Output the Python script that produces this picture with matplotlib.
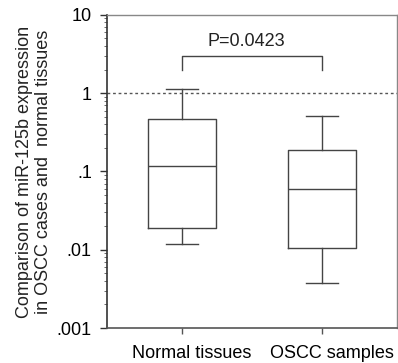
import matplotlib
matplotlib.use("Agg")
import matplotlib.pyplot as plt
import matplotlib.transforms as mtransforms
from matplotlib.ticker import FixedLocator, FixedFormatter, LogLocator, NullFormatter

plt.rcParams['font.family'] = ['Liberation Sans', 'DejaVu Sans']

# data
groups = ["Normal tissues", "OSCC samples"]
whisker_low = [0.0119, 0.00377]
q1 = [0.0191, 0.0106]
median = [0.116, 0.0588]
q3 = [0.464, 0.186]
whisker_high = [1.125, 0.507]

ref_level = 1.0
bracket_top = 3.0
bracket_leg = 2.0
p_text = "P=0.0423"

yticks = [0.001, 0.01, 0.1, 1, 10]
ytick_labels = [".001", ".01", ".1", "1", "10"]

line_col = "#444444"
fs = 13

fig = plt.figure(figsize=(3.98, 3.63), dpi=100)
ax = fig.add_axes([0.269, 0.0964, 0.728, 0.8626])

stats = []
for i in range(len(groups)):
    stats.append({
        "label": groups[i],
        "whislo": whisker_low[i],
        "q1": q1[i],
        "med": median[i],
        "q3": q3[i],
        "whishi": whisker_high[i],
        "fliers": [],
    })

positions = list(range(1, len(groups) + 1))
lp = dict(color=line_col, linewidth=1.0)
ax.bxp(stats, positions=positions, widths=0.49, showfliers=False,
       boxprops=lp, medianprops=lp, whiskerprops=lp, capprops=lp,
       capwidths=0.23)

ax.set_yscale("log")
ax.set_ylim(0.001, 10)
ax.set_xlim(0.464, 2.536)

# reference line at 1
ax.axhline(ref_level, color="#555555", linestyle=(0, (2, 2)), linewidth=1.0)

# significance bracket
ax.plot([positions[0], positions[0], positions[1], positions[1]],
        [bracket_leg, bracket_top, bracket_top, bracket_leg],
        color=line_col, linewidth=1.0)
ax.text((positions[0] + positions[1]) / 2 - 0.04, 4.6, p_text,
        ha="center", va="center", fontsize=fs, color="#222222")

ax.yaxis.set_major_locator(FixedLocator(yticks))
ax.yaxis.set_major_formatter(FixedFormatter(ytick_labels))
ax.yaxis.set_minor_locator(LogLocator(base=10, subs=range(2, 10)))
ax.yaxis.set_minor_formatter(NullFormatter())
ax.tick_params(axis="y", which="major", labelsize=fs, length=5, width=1.0,
               color="#333333", pad=6)
ax.tick_params(axis="y", which="minor", length=2.5, width=0.6, color="#555555")

ax.set_xticks(positions)
ax.set_xticklabels(groups)
ax.tick_params(axis="x", labelsize=fs, length=4, width=1.0, color="#555555", pad=8)
# labels sit a little right of their ticks in the original
shift = mtransforms.ScaledTranslation(0.1, 0, fig.dpi_scale_trans)
for lab in ax.get_xticklabels():
    lab.set_transform(lab.get_transform() + shift)

ax.set_ylabel("Comparison of miR-125b expression\nin OSCC cases and  normal tissues",
              fontsize=fs, color="#222222", labelpad=3)

ax.spines["left"].set_color("#333333")
ax.spines["left"].set_linewidth(1.2)
ax.spines["bottom"].set_color("#555555")
ax.spines["bottom"].set_linewidth(1.2)
for s in ["top", "right"]:
    ax.spines[s].set_color("#888888")
    ax.spines[s].set_linewidth(1.0)

fig.savefig("out.png", dpi=100)
